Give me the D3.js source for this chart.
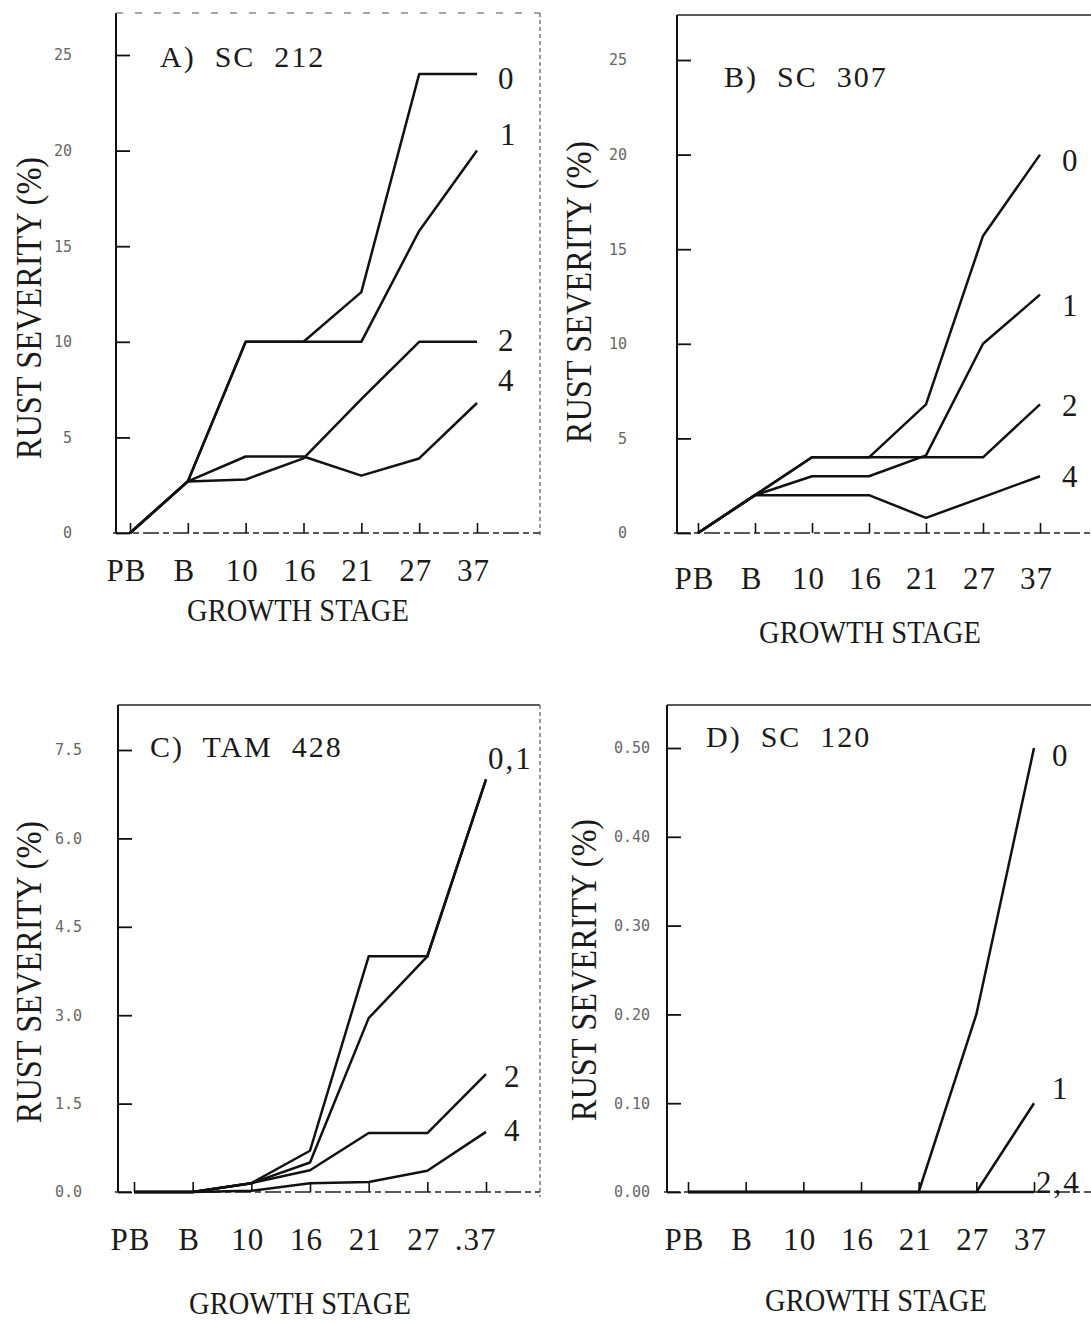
<!DOCTYPE html>
<html>
<head>
<meta charset="utf-8">
<script src="https://cdn.jsdelivr.net/npm/d3@7"></script>
<style>
  body { margin: 0; background: #fff; }
  svg { display: block; }
  .serif { font-family: "Liberation Serif", "Times New Roman", serif; fill: #1a1a1a; }
  .tick text { font-family: "DejaVu Sans Mono", monospace; }
</style>
</head>
<body>
<div id="chart"></div>
<script>
const width = 1091;
const height = 1323;

// growth stages (x categories), same for every panel
const stages = ["PB", "B", "10", "16", "21", "27", "37"];

// A) SC 212
const aTicks = [0, 5, 10, 15, 20, 25];
const aNames = ["0", "1", "2", "4"];
const a0 = [0, 2.7, 10, 10, 12.6, 24, 24];
const a1 = [0, 2.7, 10, 10, 10, 15.8, 20];
const a2 = [0, 2.7, 2.8, 3.9, 7, 10, 10];
const a4 = [0, 2.7, 4, 4, 3, 3.9, 6.8];

// B) SC 307
const bTicks = [0, 5, 10, 15, 20, 25];
const bNames = ["0", "1", "2", "4"];
const b0 = [0, 2, 4, 4, 6.8, 15.7, 20];
const b1 = [0, 2, 3, 3, 4.1, 10, 12.6];
const b2 = [0, 2, 4, 4, 4, 4, 6.8];
const b4 = [0, 2, 2, 2, 0.8, 1.9, 3.0];

// C) TAM 428
const cTicks = [0, 1.5, 3, 4.5, 6, 7.5];
const cNames = ["0,1", "2", "4"];
const c0 = [0, 0, 0.15, 0.7, 4.0, 4.0, 7.0];
const c1 = [0, 0, 0.15, 0.5, 2.95, 4.0, 7.0];
const c2 = [0, 0, 0.15, 0.37, 1.0, 1.0, 2.0];
const c4 = [0, 0, 0.02, 0.15, 0.17, 0.36, 1.02];

// D) SC 120
const dTicks = [0, 0.1, 0.2, 0.3, 0.4, 0.5];
const dNames = ["0", "1", "2,4"];
const d0 = [0, 0, 0, 0, 0, 0.2, 0.5];
const d1 = [0, 0, 0, 0, 0, 0, 0.1];
const d24 = [0, 0, 0, 0, 0, 0, 0];

const svg = d3.select("#chart")
  .append("svg")
  .attr("width", width)
  .attr("height", height);

svg.append("rect").attr("width", width).attr("height", height).attr("fill", "#fff");

// layout of each panel (pixels)
const panels = [
  {
    title: "A)  SC  212", ticks: aTicks, fmt: d3.format("d"), series: [a0, a1, a2, a4], names: aNames,
    left: 116, right: 540, top: 13, base: 533, yRef: [25, 55], x0: 130, x6: 477,
    yPad: 44, xPad: 26, titleX: 160, titleY: 56, axisTitleX: 28, axisTitleY: 308,
    growthX: 298, growthY: 610, nameX: [498, 500, 498, 498], nameY: [78, 134, 340, 380],
    topDash: "7,12", rightFrame: true
  },
  {
    title: "B)  SC  307", ticks: bTicks, fmt: d3.format("d"), series: [b0, b1, b2, b4], names: bNames,
    left: 677, right: 1091, top: 15, base: 533, yRef: [25, 60], x0: 698, x6: 1040,
    yPad: 50, xPad: 34, titleX: 724, titleY: 76, axisTitleX: 578, axisTitleY: 292,
    growthX: 870, growthY: 632, nameX: [1062, 1062, 1062, 1062], nameY: [160, 305, 405, 476],
    topDash: null, rightFrame: false
  },
  {
    title: "C)  TAM  428", ticks: cTicks, fmt: d3.format(".1f"), series: [c0, c1, c2, c4], names: cNames,
    left: 118, right: 540, top: 705, base: 1192, yRef: [7.5, 750], x0: 134, x6: 486,
    yPad: 36, xPad: 36, titleX: 150, titleY: 746, axisTitleX: 28, axisTitleY: 972,
    growthX: 300, growthY: 1303, nameX: [488, 504, 504], nameY: [758, 1076, 1130],
    topDash: null, rightFrame: true, dot37: true
  },
  {
    title: "D)  SC  120", ticks: dTicks, fmt: d3.format(".2f"), series: [d0, d1, d24], names: dNames,
    left: 667, right: 1091, top: 705, base: 1192, yRef: [0.5, 748], x0: 688, x6: 1034,
    yPad: 17, xPad: 36, titleX: 706, titleY: 736, axisTitleX: 583, axisTitleY: 970,
    growthX: 876, growthY: 1300, nameX: [1052, 1052, 1036], nameY: [755, 1088, 1182],
    topDash: null, rightFrame: false
  }
];

// texto condensado (las letras del original son altas y estrechas)
function condensed(g, x, y, txt, size, sx, rot) {
  return g.append("text")
    .attr("class", "serif")
    .attr("transform", `translate(${x},${y})${rot ? " rotate(-90)" : ""} scale(${sx},1)`)
    .attr("text-anchor", "middle")
    .attr("dy", "0.35em")
    .style("font-size", size + "px")
    .text(txt);
}

panels.forEach(p => {
  const g = svg.append("g");

  const y = d3.scaleLinear().domain([0, p.yRef[0]]).range([p.base, p.yRef[1]]);
  const x = d3.scalePoint().domain(stages).range([p.x0, p.x6]);

  // marco: eje izquierdo, borde superior, derecho y base
  g.append("line")
    .attr("x1", p.left).attr("x2", p.left).attr("y1", p.top).attr("y2", p.base)
    .attr("stroke", "#111").attr("stroke-width", 2);
  g.append("line")
    .attr("x1", p.left).attr("x2", p.right).attr("y1", p.top).attr("y2", p.top)
    .attr("stroke", p.topDash ? "#888" : "#222").attr("stroke-width", 1.5)
    .attr("stroke-dasharray", p.topDash);
  if (p.rightFrame) {
    g.append("line")
      .attr("x1", p.right).attr("x2", p.right).attr("y1", p.top).attr("y2", p.base + 5)
      .attr("stroke", "#666").attr("stroke-width", 1.3)
      .attr("stroke-dasharray", "4,3");
  }
  g.append("line")
    .attr("x1", p.left - 3).attr("x2", p.right).attr("y1", p.base).attr("y2", p.base)
    .attr("stroke", "#222").attr("stroke-width", 1.6)
    .attr("stroke-dasharray", "16,4,6,4");

  // eje Y: marcas hacia dentro
  const yAxis = g.append("g")
    .attr("transform", `translate(${p.left},0)`)
    .call(d3.axisLeft(y).tickValues(p.ticks).tickFormat(p.fmt)
      .tickSize(-14).tickSizeOuter(0).tickPadding(p.yPad));
  yAxis.select(".domain").remove();
  yAxis.selectAll("line").attr("stroke", "#111").attr("stroke-width", 1.8);
  yAxis.selectAll("text")
    .attr("fill", "#666")
    .style("font-size", "15px");

  // eje X: marcas hacia arriba
  const xAxis = g.append("g")
    .attr("transform", `translate(0,${p.base})`)
    .call(d3.axisBottom(x).tickSize(-10).tickSizeOuter(0).tickPadding(p.xPad)
      .tickFormat(d => (p.dot37 && d === "37") ? ".37" : d));
  xAxis.select(".domain").remove();
  xAxis.selectAll("line").attr("stroke", "#111").attr("stroke-width", 1.6);
  xAxis.selectAll("text")
    .attr("dx", d => (p.dot37 && d === "37") ? -11 : -4)
    .style("font-family", "'Liberation Serif', serif")
    .style("font-size", "31px")
    .style("letter-spacing", "1px")
    .attr("fill", "#1a1a1a");

  // curvas
  const linea = d3.line()
    .x((d, i) => x(stages[i]))
    .y(d => y(d));

  g.selectAll(".serie")
    .data(p.series)
    .join("path")
    .attr("class", "serie")
    .attr("d", linea)
    .attr("fill", "none")
    .attr("stroke", "#111")
    .attr("stroke-width", 2.5)
    .attr("stroke-linejoin", "round");

  // etiquetas de cada curva
  g.selectAll(".nombre")
    .data(p.names)
    .join("text")
    .attr("class", "nombre serif")
    .attr("x", (d, i) => p.nameX[i])
    .attr("y", (d, i) => p.nameY[i])
    .attr("dy", "0.35em")
    .style("font-size", "31px")
    .style("letter-spacing", "2px")
    .text(d => d);

  // título del panel
  g.append("text")
    .attr("class", "serif")
    .attr("x", p.titleX)
    .attr("y", p.titleY)
    .attr("dy", "0.35em")
    .attr("xml:space", "preserve")
    .style("white-space", "pre")
    .style("font-size", "30px")
    .style("letter-spacing", "2px")
    .text(p.title);

  // títulos de ejes
  condensed(g, p.axisTitleX, p.axisTitleY, "RUST SEVERITY (%)", 36, 0.9, true);
  condensed(g, p.growthX, p.growthY, "GROWTH STAGE", 31, 0.92, false);
});
</script>
</body>
</html>
